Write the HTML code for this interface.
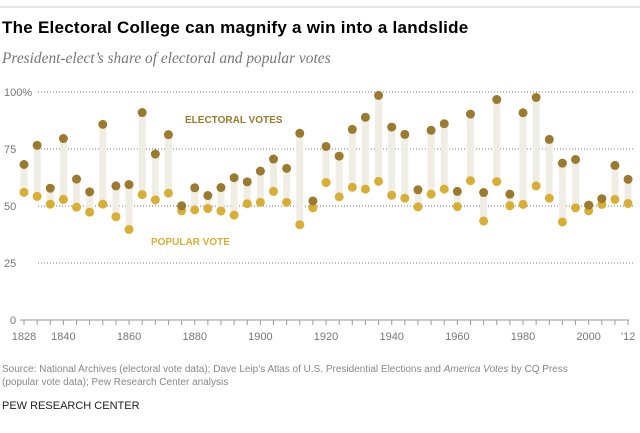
<!DOCTYPE html>
<html><head><meta charset="utf-8"><style>
body{margin:0;background:#fff;width:640px;height:428px;overflow:hidden;font-family:"Liberation Sans",sans-serif}
</style></head><body>
<svg id="chart" width="640" height="428" xmlns="http://www.w3.org/2000/svg">
<line x1="0" y1="7" x2="640" y2="7" stroke="#ccc" stroke-width="1"/>
<text x="2" y="33" font-size="17" font-weight="bold" fill="#000" letter-spacing="0.25">The Electoral College can magnify a win into a landslide</text>
<text x="2" y="63" font-family="Liberation Serif, serif" font-style="italic" font-size="15.4" fill="#777">President-elect’s share of electoral and popular votes</text>
<g id="grid"></g><g id="marks"></g><g id="axis"></g>
<text x="185" y="123" font-size="10" font-weight="bold" fill="#9a7a2e">ELECTORAL VOTES</text>
<text x="151" y="245" font-size="10" font-weight="bold" fill="#d9ae35">POPULAR VOTE</text>
<text font-size="10" fill="#888"><tspan x="2" y="372">Source: National Archives (electoral vote data); Dave Leip’s Atlas of U.S. Presidential Elections and <tspan font-style="italic">America Votes</tspan> by CQ Press</tspan><tspan x="2" y="385">(popular vote data); Pew Research Center analysis</tspan></text>
<text x="2" y="409" font-size="11" fill="#222">PEW RESEARCH CENTER</text>
</svg>
<script>
const years=[1828,1832,1836,1840,1844,1848,1852,1856,1860,1864,1868,1872,1876,1880,1884,1888,1892,1896,1900,1904,1908,1912,1916,1920,1924,1928,1932,1936,1940,1944,1948,1952,1956,1960,1964,1968,1972,1976,1980,1984,1988,1992,1996,2000,2004,2008,2012];
const electoral=[68.2,76.6,57.8,79.6,61.8,56.2,85.8,58.8,59.4,91.0,72.8,81.3,50.1,58.0,54.6,58.1,62.4,60.6,65.3,70.6,66.5,81.9,52.2,76.1,71.9,83.6,88.9,98.5,84.6,81.4,57.1,83.2,86.1,56.4,90.3,55.9,96.7,55.2,90.9,97.6,79.2,68.8,70.4,50.4,53.2,67.8,61.7];
const popular=[56.0,54.2,50.8,52.9,49.5,47.3,50.8,45.3,39.7,55.0,52.7,55.6,47.9,48.3,48.9,47.8,46.0,51.0,51.6,56.4,51.6,41.8,49.2,60.3,54.0,58.2,57.4,60.8,54.7,53.4,49.6,55.2,57.4,49.7,61.1,43.4,60.7,50.1,50.7,58.8,53.4,43.0,49.2,47.9,50.7,52.9,51.1];
const yTicks=[0,25,50,75,100];
const yTickLabels=["0","25","50","75","100%"];
const xTickYears=[1828,1840,1860,1880,1900,1920,1940,1960,1980,2000,2012];
const xTickLabels=["1828","1840","1860","1880","1900","1920","1940","1960","1980","2000","’12"];
const NS="http://www.w3.org/2000/svg";
const x=yr=>24+(yr-1828)*3.283;
const y=v=>320-v*2.28;
function mk(tag,attrs,parent){const e=document.createElementNS(NS,tag);for(const k in attrs)e.setAttribute(k,attrs[k]);parent.appendChild(e);return e;}
const grid=document.getElementById('grid'),marks=document.getElementById('marks'),axis=document.getElementById('axis');
yTicks.forEach((t,i)=>{
  if(t>0){const l=mk('line',{x1:38,x2:634,y1:y(t),y2:y(t),stroke:'#777','stroke-width':1,'stroke-dasharray':'1,2'},grid);
  
  }
  const tx=mk('text',{x:t===100?4:(t===0?10:4),y:y(t)+4,'font-size':11,fill:'#777'},grid);
  tx.textContent=yTickLabels[i];
  
  
});
const base=mk('line',{x1:20,x2:x(2012)+1,y1:320,y2:320,stroke:'#999','stroke-width':1},axis);


years.forEach(yr=>{
  const t=mk('line',{x1:x(yr),x2:x(yr),y1:320,y2:325,stroke:'#999','stroke-width':1},axis);
  
  
});
xTickYears.forEach((yr,i)=>{
  const t=mk('text',{x:x(yr),y:340,'font-size':11,fill:'#777','text-anchor':'middle'},axis);
  t.textContent=xTickLabels[i];
  
  
});
years.forEach((yr,i)=>{
  const b=mk('rect',{x:x(yr)-3.5,y:y(electoral[i]),width:7,height:Math.max(0,y(popular[i])-y(electoral[i])),fill:'#efede4'},marks);
  
  
});
years.forEach((yr,i)=>{
  const p=mk('circle',{cx:x(yr),cy:y(popular[i]),r:4.5,fill:'#d9ae35'},marks);
  
  
  const e=mk('circle',{cx:x(yr),cy:y(electoral[i]),r:4.5,fill:'#9a7a2e'},marks);
  
  
});
</script>
</body></html>
